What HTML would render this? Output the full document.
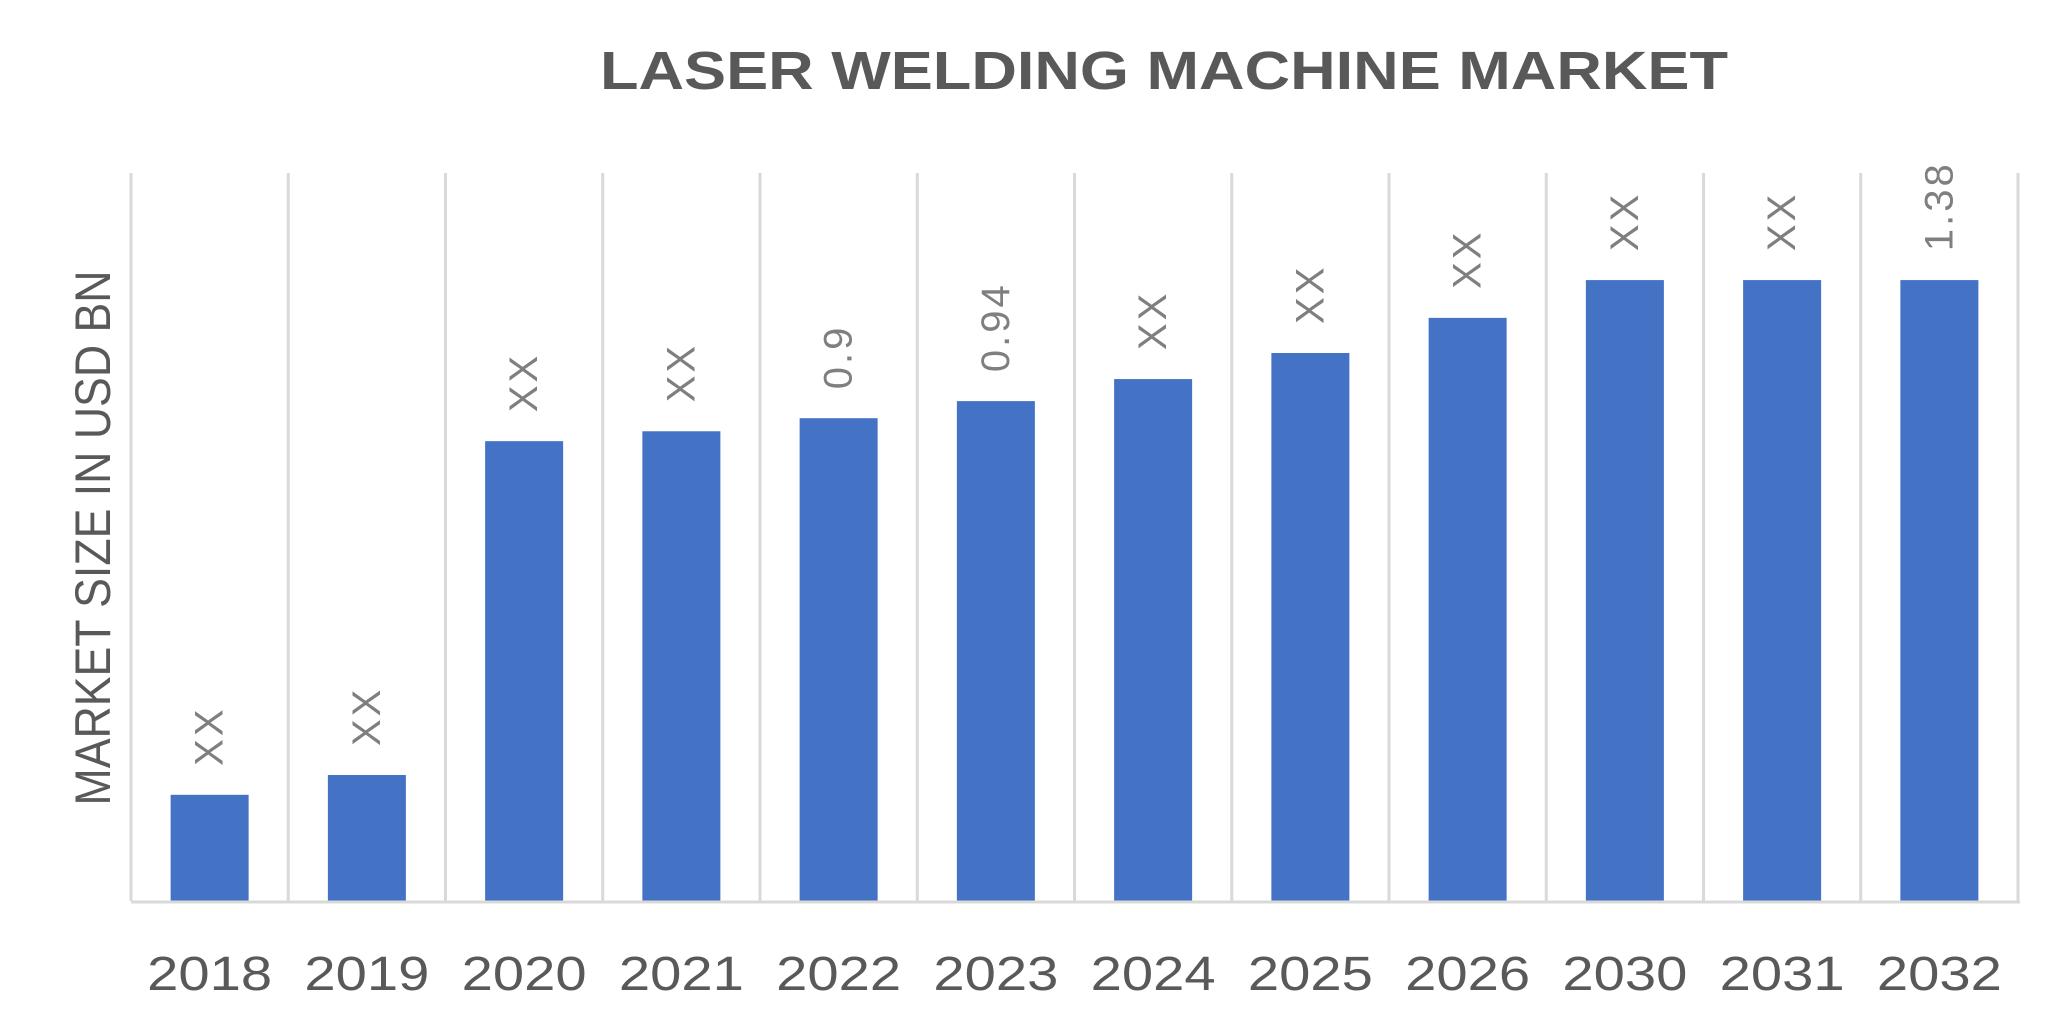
<!DOCTYPE html>
<html><head><meta charset="utf-8"><style>
html,body{margin:0;padding:0;background:#fff;}
svg{display:block;font-family:"Liberation Sans",sans-serif;}
</style></head><body>
<svg id="chart" width="2068" height="1034" viewBox="0 0 2068 1034" xmlns="http://www.w3.org/2000/svg">
<text x="1164" y="89" text-anchor="middle" font-size="54" font-weight="bold" fill="#595959" textLength="1128" lengthAdjust="spacingAndGlyphs">LASER WELDING MACHINE MARKET</text>
<text transform="translate(110,538) rotate(-90)" text-anchor="middle" font-size="50" fill="#595959" textLength="535" lengthAdjust="spacingAndGlyphs">MARKET SIZE IN USD BN</text>
<g id="plot"></g>
</svg>
<script>
const categories = ["2018","2019","2020","2021","2022","2023","2024","2025","2026","2030","2031","2032"];
const values = [0.236,0.28,1.022,1.044,1.073,1.111,1.16,1.218,1.296,1.38,1.38,1.38];
const valueLabels = ["XX","XX","XX","XX","0.9","0.94","XX","XX","XX","XX","XX","1.38"];
const yMax = 1.618;

const NS = "http://www.w3.org/2000/svg";
const plot = document.getElementById('plot');
const plotLeft = 131, plotRight = 2018, plotTop = 173, plotBottom = 901;
const bandW = (plotRight - plotLeft) / categories.length;
const barW = 78;
const xPos = i => plotLeft + i * bandW;
const yPos = v => plotBottom - (v / yMax) * (plotBottom - plotTop);

function mk(tag, attrs) {
  const el = document.createElementNS(NS, tag);
  for (const k in attrs) el.setAttribute(k, attrs[k]);
  plot.appendChild(el);
  return el;
}
for (let i = 0; i <= categories.length; i++) {
  const g = mk('line', {x1: xPos(i), x2: xPos(i), y1: plotTop, y2: plotBottom, stroke: '#d9d9d9', 'stroke-width': 3});
  
  
}
categories.forEach((c, i) => {
  const cx = xPos(i) + bandW / 2;
  const yt = yPos(values[i]);
  const r = mk('rect', {x: cx - barW / 2, y: yt, width: barW, height: plotBottom - yt, fill: '#4472c4'});
  
  
  const t = mk('text', {transform: `translate(${cx + 13},${yt - 29}) rotate(-90)`, 'font-size': 40, fill: '#7f7f7f', 'text-anchor': 'start', 'letter-spacing': 3});
  t.textContent = valueLabels[i];
  
  
  const xl = mk('text', {x: cx, y: 990, 'font-size': 48, fill: '#595959', 'text-anchor': 'middle', textLength: 125, lengthAdjust: 'spacingAndGlyphs'});
  xl.textContent = c;
  
  
});
const ax = mk('line', {x1: plotLeft, x2: plotRight + 2, y1: plotBottom + 1, y2: plotBottom + 1, stroke: '#d9d9d9', 'stroke-width': 3});


</script>
</body></html>
